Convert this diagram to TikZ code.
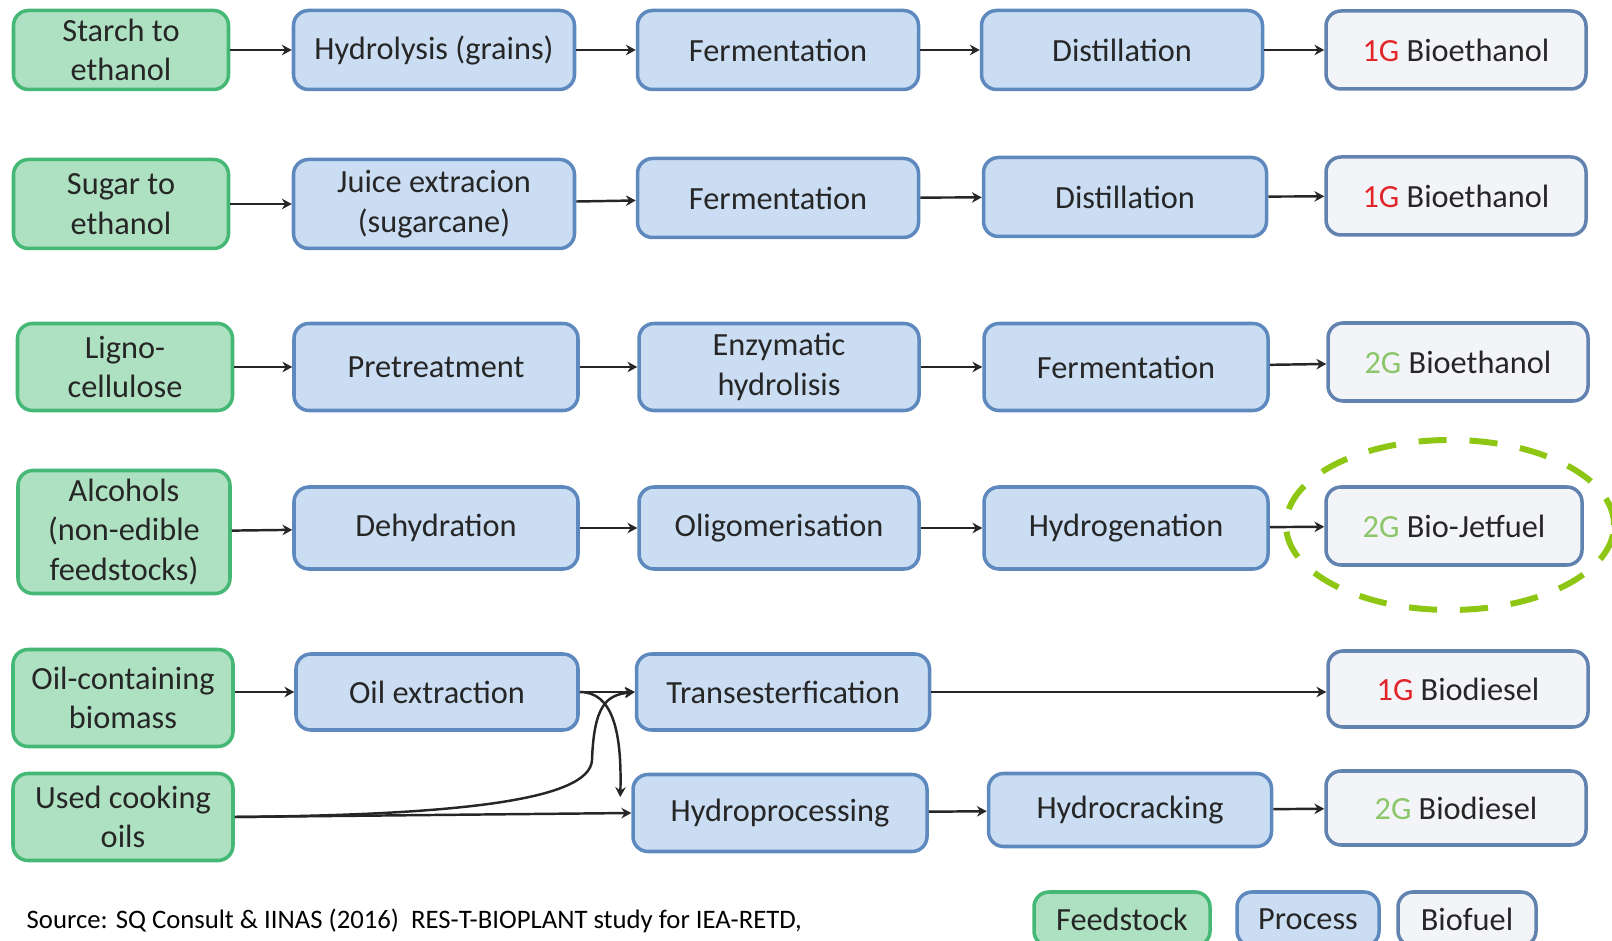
\documentclass[tikz,border=0pt]{standalone}
\usepackage{fontspec}
\setmainfont{Carlito}
\usetikzlibrary{positioning,arrows.meta}
\definecolor{feedfill}{HTML}{AEE1C2}
\definecolor{feedline}{HTML}{45B875}
\definecolor{procfill}{HTML}{CADDF2}
\definecolor{procline}{HTML}{5E89BF}
\definecolor{fuelfill}{HTML}{F3F4F8}
\definecolor{fuelline}{HTML}{6283B0}
\definecolor{boxtext}{HTML}{262626}
\definecolor{gonered}{HTML}{E1262B}
\definecolor{gtwogreen}{HTML}{8CC66A}
\definecolor{ringgreen}{HTML}{8DC714}
\definecolor{linkgray}{HTML}{262626}

\begin{document}
\begin{tikzpicture}[x=0.1mm, y=-0.1mm, font=\fontsize{9.2}{11.2}\selectfont]
    \tikzset{
        feed/.style = {rectangle, rounded corners=1.5mm, line width=1pt, draw=feedline, fill=feedfill, text=boxtext, align=center, minimum width=21.5mm, inner sep=1pt},
        proc/.style = {rectangle, rounded corners=1.5mm, line width=1pt, draw=procline, fill=procfill, text=boxtext, align=center, minimum width=28.1mm, minimum height=7.9mm, inner sep=1pt},
        fuel/.style = {rectangle, rounded corners=1.5mm, line width=1pt, draw=fuelline, fill=fuelfill, text=boxtext, align=center, minimum width=26mm, minimum height=7.8mm, inner sep=1pt},
        arrow/.style = {line width=0.7pt, draw=linkgray, -{Stealth[length=2.8pt,width=3pt]}},
        oneg/.style = {text=gonered},
        twog/.style = {text=gtwogreen}
    }
    \useasboundingbox (0,0) rectangle (1612,941);
    \clip (0,0) rectangle (1612,941);

    % starch
    \node (starch) [feed, minimum height=7.9mm] at (121,50) {Starch to\\ethanol};
    \node (hydgrain) [proc] at (434,50) {Hydrolysis (grains)};
    \node (ferm1) [proc] at (778,50) {Fermentation};
    \node (dist1) [proc] at (1122,50) {Distillation};
    \node (bioeth1) [fuel] at (1456,50) {{\color{gonered}1G} Bioethanol};
    \draw [arrow] (starch) -- (hydgrain);
    \draw [arrow] (hydgrain) -- (ferm1);
    \draw [arrow] (ferm1) -- (dist1);
    \draw [arrow] (dist1) -- (bioeth1);

    % sugar
    \node (sugar) [feed, minimum height=8.9mm] at (121,204) {Sugar to\\ethanol};
    \node (juice) [proc, minimum height=8.9mm] at (434,204) {Juice extracion\\(sugarcane)};
    \node (ferm2) [proc] at (778,198) {Fermentation};
    \node (dist2) [proc, minimum width=28.3mm] at (1125,197) {Distillation};
    \node (bioeth2) [fuel] at (1456,196) {{\color{gonered}1G} Bioethanol};
    \draw [arrow] (sugar) -- (juice);
    \draw [arrow] (juice) -- (ferm2);
    \draw [arrow] (ferm2) -- (dist2);
    \draw [arrow] (dist2) -- (bioeth2);

    % lignocellulose
    \node (ligno) [feed, minimum height=8.7mm] at (125,367) {Ligno-\\cellulose};
    \node (pretreat) [proc, minimum height=8.7mm, minimum width=28.4mm] at (436,367) {Pretreatment};
    \node (enzym) [proc, minimum height=8.7mm, minimum width=28mm] at (779,367) {Enzymatic\\hydrolisis};
    \node (ferm3) [proc, minimum height=8.7mm, minimum width=28.4mm] at (1126,367) {Fermentation};
    \node (bioeth3) [fuel, minimum height=7.8mm] at (1458,362) {{\color{gtwogreen}2G} Bioethanol};
    \draw [arrow] (ligno) -- (pretreat);
    \draw [arrow] (pretreat) -- (enzym);
    \draw [arrow] (enzym) -- (ferm3);
    \draw [arrow] (ferm3) -- (bioeth3);

    % alcohols
    \node (alcohol) [feed, minimum height=12.3mm, minimum width=21.2mm] at (124,532) {Alcohols\\(non-edible\\feedstocks)};
    \node (dehyd) [proc, minimum height=8.2mm, minimum width=28.4mm] at (436,528) {Dehydration};
    \node (oligo) [proc, minimum height=8.2mm, minimum width=28mm] at (779,528) {Oligomerisation};
    \node (hydrogen) [proc, minimum height=8.2mm, minimum width=28.4mm] at (1126,528) {Hydrogenation};
    \node (jetfuel) [fuel, minimum width=25.6mm] at (1454,526) {{\color{gtwogreen}2G} Bio-Jetfuel};
    \draw [arrow] (alcohol) -- (dehyd);
    \draw [arrow] (dehyd) -- (oligo);
    \draw [arrow] (oligo) -- (hydrogen);
    \draw [arrow] (hydrogen) -- (jetfuel);
    \draw [ringgreen, line width=1.7pt, dash pattern=on 8pt off 6.5pt] (1450,525) ellipse [x radius=16.4mm, y radius=8.5mm];

    % oils
    \node (oilbio) [feed, minimum height=9.7mm, minimum width=22mm] at (123,698) {Oil-containing\\biomass};
    \node (oilext) [proc, minimum height=7.6mm, minimum width=28.2mm] at (437,692) {Oil extraction};
    \node (trans) [proc, minimum height=7.6mm, minimum width=29.3mm] at (783,692) {Transesterfication};
    \node (biodsl1) [fuel, minimum height=7.6mm] at (1458,689) {{\color{gonered}1G} Biodiesel};
    \node (usedoil) [feed, minimum height=8.7mm, minimum width=22mm] at (123,817) {Used cooking\\oils};
    \node (hproc) [proc, minimum height=7.7mm, minimum width=29.4mm] at (780,813) {Hydroprocessing};
    \node (hcrack) [proc, minimum height=7.3mm, minimum width=28.3mm] at (1130,810) {Hydrocracking};
    \node (biodsl2) [fuel, minimum height=7.4mm] at (1456,808) {{\color{gtwogreen}2G} Biodiesel};
    \coordinate (hprocin) at ([shift={(-11,-16)}]hproc.west);

    \draw [arrow] (oilbio.east |- oilext.west) -- (oilext);
    \draw [arrow] (oilext) -- (trans);
    \draw [arrow] (oilext.east) .. controls (612,692) and (622,730) .. (hprocin);
    \draw [arrow] (usedoil.east) .. controls (460,815) and (590,800) .. (592,760) .. controls (594,706) and (606,695) .. (trans.west);
    \draw [arrow] (usedoil.east) -- (hproc.west);
    \draw [arrow] (trans) -- (trans -| biodsl1.west);
    \draw [arrow] (hproc) -- (hcrack);
    \draw [arrow] (hcrack) -- (biodsl2);

    % key and source
    \node (keyfeed) [feed, minimum height=5.4mm, minimum width=17.6mm] at (1122,919) {Feedstock};
    \node (keyproc) [proc, minimum height=5.4mm, minimum width=14.2mm] at (1308,919) {Process};
    \node (keyfuel) [fuel, minimum height=5.4mm, minimum width=13.8mm] at (1467,919) {Biofuel};
    \node (source) [anchor=west, text=black, inner sep=0pt, font=\fontsize{7.6}{9}\selectfont] at (26,921) {Source: SQ Consult \& IINAS (2016)\ \ RES-T-BIOPLANT study for IEA-RETD,};
\end{tikzpicture}
\end{document}
